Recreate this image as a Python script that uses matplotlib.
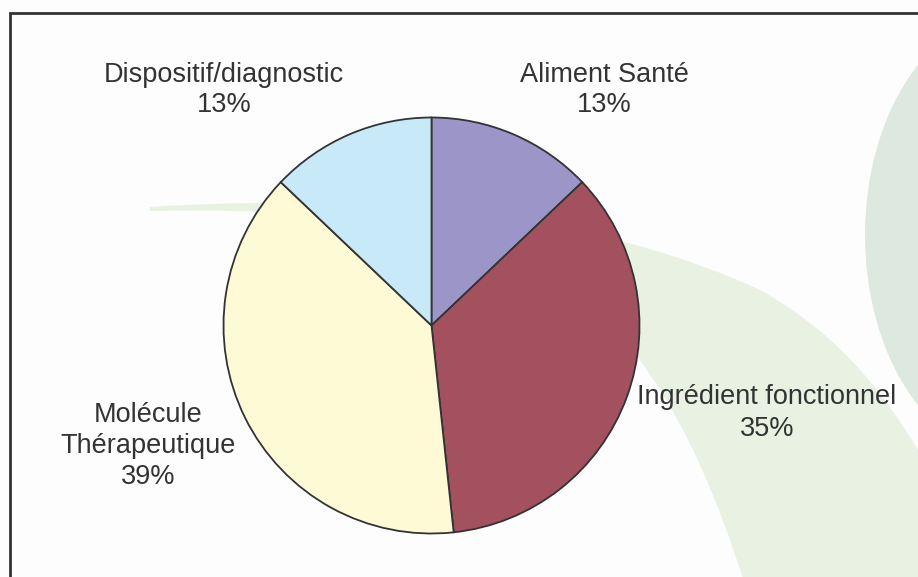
import matplotlib.pyplot as plt
import matplotlib.patches as mpatches
from matplotlib.path import Path

# Répartition des projets par type de produit
categories = ['Aliment Santé', 'Ingrédient fonctionnel', 'Molécule\nThérapeutique', 'Dispositif/diagnostic']
values = [12.9, 35.4, 38.8, 12.9]
colors = ['#9B95C8', '#A3515F', '#FFFAD6', '#C8E9F8']

W, H = 918, 577
fig = plt.figure(figsize=(W / 100, H / 100), dpi=100)
fig.patch.set_facecolor('#FDFDFD')
ax = fig.add_axes([0, 0, 1, 1])


def py(y):
    # pixel row (from top) -> data y (from bottom)
    return H - y


# faint background swooshes
right_blob = mpatches.Ellipse((1010, py(235)), 290, 440, facecolor='#DDE9E0', edgecolor='none', zorder=0)
ax.add_patch(right_blob)

verts = [(150, py(207)),
         (420, py(190)), (620, py(225)), (760, py(290)),
         (850, py(340)), (895, py(410)), (930, py(470)),
         (930, py(600)),
         (750, py(600)),
         (715, py(490)), (680, py(400)), (600, py(310)),
         (450, py(215)), (300, py(208)), (150, py(211)),
         (150, py(207))]
codes = [Path.MOVETO,
         Path.CURVE4, Path.CURVE4, Path.CURVE4,
         Path.CURVE4, Path.CURVE4, Path.CURVE4,
         Path.LINETO,
         Path.LINETO,
         Path.CURVE4, Path.CURVE4, Path.CURVE4,
         Path.CURVE4, Path.CURVE4, Path.CURVE4,
         Path.CLOSEPOLY]
ax.add_patch(mpatches.PathPatch(Path(verts, codes), facecolor='#E8F1E2', edgecolor='none', zorder=0))

# pie
cx, cy, r = 431.5, py(325.5), 208
wedges, _ = ax.pie(values, colors=colors, startangle=90, counterclock=False,
                   center=(cx, cy), radius=r,
                   wedgeprops=dict(edgecolor='#333333', linewidth=1.3))
for w in wedges:
    w.set_zorder(2)

# labels
label_pos = [(604, 90), (767, 413), (148, 446), (224, 90)]
for name, v, (x, y) in zip(categories, values, label_pos):
    ax.text(x, py(y), f'{name}\n{v:.0f}%', ha='center', va='center',
            fontsize=19.5, color='#333333', family='Liberation Sans',
            linespacing=1.25, zorder=3)

ax.set_xlim(0, W)
ax.set_ylim(0, H)
ax.set_aspect('auto')
ax.axis('off')

# chart frame (left and top edges visible)
ax.plot([10, 10, W + 10], [py(H + 10), py(13), py(13)], color='#333333', linewidth=2, zorder=4,
        solid_joinstyle='miter', clip_on=False)

fig.savefig('out.png', dpi=100, facecolor=fig.get_facecolor())
